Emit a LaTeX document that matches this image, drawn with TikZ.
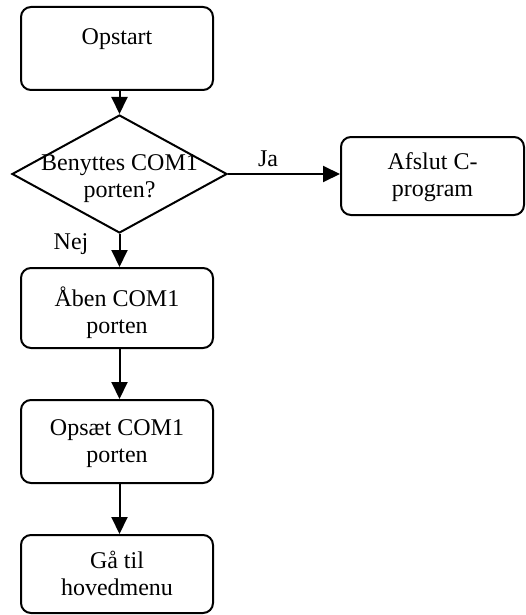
\documentclass[tikz,border=0pt]{standalone}
\usepackage{fontspec}
\setmainfont{Liberation Serif}
\usetikzlibrary{shapes.geometric,arrows.meta}
\begin{document}
\begin{tikzpicture}[x=0.5pt,y=-0.5pt]
		\tikzset{box/.style = {draw, line width=1pt, rounded corners=5pt, align=center,
				font=\fontsize{12}{13.5}\selectfont, minimum width=96pt, inner sep=0pt,
				text depth=3pt}}
		\tikzset{decision/.style = {draw, line width=1pt, diamond, aspect=1.82, align=center,
				font=\fontsize{12}{13.5}\selectfont, minimum width=107.5pt, minimum height=59pt, inner sep=-6pt,
				text height=26.8pt, text depth=3pt}}
		\tikzset{edge/.style = {-{Triangle[width=8pt,length=8.5pt]}, line width=1pt}}
		\tikzset{lbl/.style = {font=\fontsize{12}{13.5}\selectfont, inner sep=1pt}}
		
		\useasboundingbox (0,0) rectangle (525,615);
		
		\node[box, minimum height=41.5pt, text height=23.5pt, text depth=0pt] (1) at (117,  48.5) {Opstart\\\mbox{}};
		\node[decision]                                      (2) at (119.5,174)  {Benyttes COM1\\porten?};
		\node[box, minimum width=91.5pt, minimum height=39pt, text height=23.3pt] (3) at (432.5,176) {Afslut C-\\program};
		\node[box, minimum height=40pt, text height=28.5pt]  (4) at (117, 308)   {Åben COM1\\porten};
		\node[box, minimum height=41.5pt, text height=23.8pt] (5) at (117, 441.5) {Opsæt COM1\\porten};
		\node[box, minimum height=39pt, text height=24.8pt]  (6) at (117, 574)   {Gå til\\hovedmenu};
		
		\draw[edge] (1.south -| 2.north) to (2.north);
		\draw[edge] (2.east) to (2.east -| 3.west);
		\draw[edge] (2.south) to (2.south |- 4.north);
		\draw[edge] (4.south -| 2.south) to (5.north -| 2.south);
		\draw[edge] (5.south -| 2.south) to (6.north -| 2.south);
		
		\node[lbl] (ja)  at (268, 159) {Ja};
		\node[lbl] (nej) at ( 71, 244) {Nej};
		\end{tikzpicture}
\end{document}
